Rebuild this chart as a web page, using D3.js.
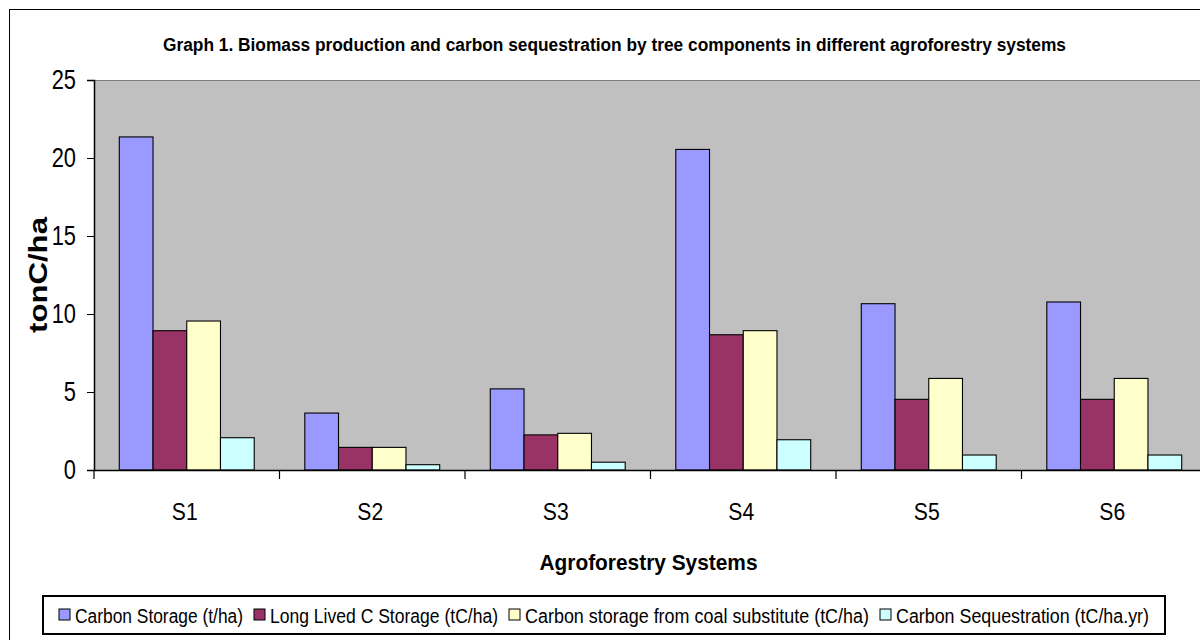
<!DOCTYPE html>
<html><head><meta charset="utf-8">
<script src="https://cdn.jsdelivr.net/npm/d3@7"></script>
<style>body{margin:0;background:#fff;} svg{display:block;}</style>
</head><body><svg id="c" width="1200" height="640"></svg>
<script>
const categories = ["S1","S2","S3","S4","S5","S6"];
const seriesNames = ["Carbon Storage (t/ha)","Long Lived C Storage (tC/ha)","Carbon storage from coal substitute (tC/ha)","Carbon Sequestration (tC/ha.yr)"];
const carbonStorage = [21.35, 3.65, 5.2, 20.55, 10.66, 10.77];
const longLived = [8.93, 1.45, 2.25, 8.67, 4.53, 4.53];
const coalSubstitute = [9.55, 1.45, 2.35, 8.93, 5.87, 5.87];
const sequestration = [2.07, 0.34, 0.5, 1.94, 0.96, 0.96];
const yTicks = [0,5,10,15,20,25];
const colors = ["#9999FF","#993366","#FFFFCC","#CCFFFF"];

const series = [carbonStorage, longLived, coalSubstitute, sequestration];
const font = "'Liberation Sans',Arial,sans-serif";
const svg = d3.select("#c");

function condense(sel, f){
  sel.each(function(){
    const w = this.getComputedTextLength();
    d3.select(this).attr("textLength", w*f).attr("lengthAdjust","spacingAndGlyphs");
  });
}

// outer border
svg.append("rect").attr("x",9.5).attr("y",9.5).attr("width",1220).attr("height",660)
  .attr("fill","#fff").attr("stroke","#000").attr("stroke-width",1);

const L=94, R=1207, T=80, B=470;
const x = d3.scaleBand().domain(categories).range([L,R]).paddingInner(0).paddingOuter(0);
const y = d3.scaleLinear().domain([0,25]).range([B,T]);

// plot area
svg.append("rect").attr("x",L).attr("y",T).attr("width",R-L).attr("height",B-T)
  .attr("fill","#C0C0C0");
svg.append("line").attr("x1",L).attr("x2",R).attr("y1",T+0.5).attr("y2",T+0.5).attr("stroke","#808080");

// bars
const bw = x.bandwidth()/5.5;
const g = svg.append("g");
categories.forEach((c,i)=>{
  series.forEach((s,j)=>{
    const x0 = x(c) + bw*0.75 + j*bw;
    g.append("rect")
      .attr("x", x0).attr("y", y(s[i]))
      .attr("width", bw).attr("height", y(0)-y(s[i]))
      .attr("fill", colors[j]).attr("stroke","#000").attr("stroke-width",1.1);
  });
});

// y axis
const yAxis = d3.axisLeft(y).tickValues(yTicks).tickSize(7).tickPadding(11);
const ya = svg.append("g").attr("transform",`translate(${L},0)`).call(yAxis);
ya.select(".domain").attr("stroke","#000").attr("stroke-width",1.5);
ya.selectAll(".tick line").attr("stroke","#000");
ya.selectAll("text").attr("font-family",font).attr("font-size",28).attr("fill","#000");
condense(ya.selectAll("text"), 0.78);

// x axis
const xAxis = d3.axisBottom(x).tickSize(0);
const xa = svg.append("g").attr("transform",`translate(0,${B})`).call(xAxis);
xa.select(".domain").attr("stroke","#000").attr("stroke-width",1.5);
xa.selectAll("text").attr("font-family",font).attr("font-size",24).attr("fill","#000")
  .attr("y",50).attr("dy",0).attr("dx",-2);
condense(xa.selectAll("text"), 0.88);
// category separators
categories.forEach(c=>{
  svg.append("line").attr("x1",x(c)).attr("x2",x(c)).attr("y1",B).attr("y2",B+9)
    .attr("stroke","#000").attr("stroke-width",1.2);
});

// title
svg.append("text").attr("x",614.5).attr("y",51).attr("text-anchor","middle")
  .attr("font-family",font).attr("font-weight","bold").attr("font-size",18)
  .attr("textLength",903).attr("lengthAdjust","spacingAndGlyphs")
  .text("Graph 1. Biomass production and carbon sequestration by tree components in different agroforestry systems");

// axis titles
svg.append("text").attr("transform","translate(47,275) rotate(-90)").attr("text-anchor","middle")
  .attr("font-family",font).attr("font-weight","bold").attr("font-size",25)
  .attr("textLength",116).attr("lengthAdjust","spacingAndGlyphs")
  .text("tonC/ha");
svg.append("text").attr("x",648.5).attr("y",570).attr("text-anchor","middle")
  .attr("font-family",font).attr("font-weight","bold").attr("font-size",22)
  .attr("textLength",218).attr("lengthAdjust","spacingAndGlyphs")
  .text("Agroforestry Systems");

// legend
svg.append("rect").attr("x",43).attr("y",596).attr("width",1122).attr("height",38)
  .attr("fill","#fff").attr("stroke","#000").attr("stroke-width",2);
const legendLens = [168, 228, 344, 253];
let lx = 59;
const leg = svg.append("g");
seriesNames.forEach((n,j)=>{
  leg.append("rect").attr("x",lx).attr("y",609).attr("width",11).attr("height",11)
    .attr("fill",colors[j]).attr("stroke","#000").attr("stroke-width",1);
  leg.append("text").attr("x",lx+16).attr("y",623).attr("font-family",font)
    .attr("font-size",20).attr("textLength",legendLens[j]).attr("lengthAdjust","spacingAndGlyphs").text(n);
  lx += 16 + legendLens[j] + 11;
});
</script></body></html>
